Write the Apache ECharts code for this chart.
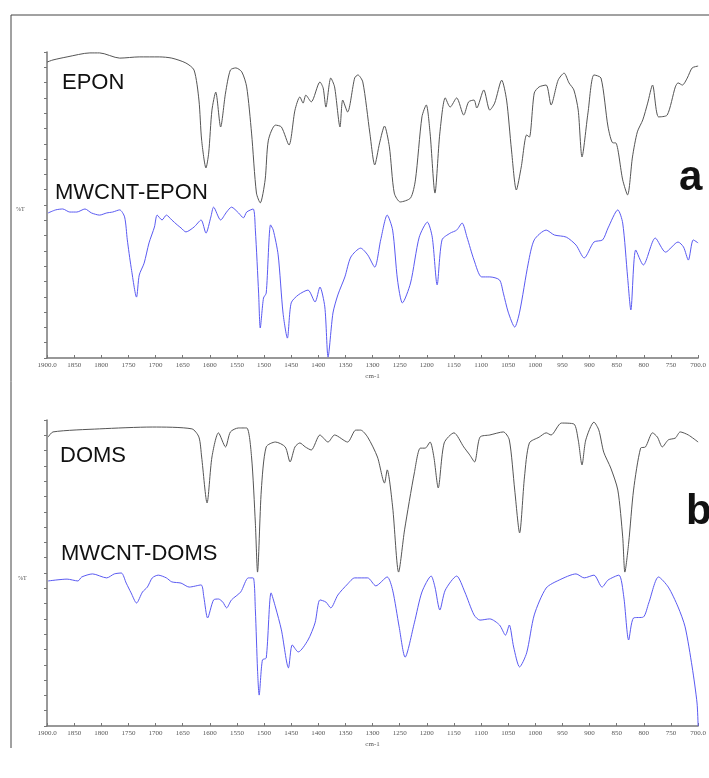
<!DOCTYPE html>
<html>
<head>
<meta charset="utf-8">
<script src="https://cdn.jsdelivr.net/npm/echarts@6/dist/echarts.min.js"></script>
<style>
html,body{margin:0;padding:0;background:#fff;}
#chart{width:709px;height:778px;}
</style>
</head>
<body>
<div id="chart"></div>
<script>
// ---- data (wavenumber cm-1, %T in arbitrary panel units 0-100) ----
const xTicks = [1900,1850,1800,1750,1700,1650,1600,1550,1500,1450,1400,1350,1300,1250,1200,1150,1100,1050,1000,950,900,850,800,750,700];

const eponWn = [1900,1889,1863,1821,1803,1766,1730,1693,1670,1644,1629,1620,1615,1607,1602,1596,1589,1580,1571,1562,1552,1541,1532,1523,1514,1507,1498,1492,1479,1468,1454,1443,1434,1428,1423,1413,1397,1391,1386,1377,1370,1360,1355,1346,1333,1327,1318,1305,1296,1287,1278,1269,1260,1249,1230,1221,1209,1201,1194,1185,1176,1166,1157,1145,1132,1123,1113,1108,1095,1084,1075,1062,1053,1044,1035,1026,1016,1011,1002,993,980,971,958,947,938,929,921,914,903,892,879,866,857,852,839,830,821,812,802,793,784,773,757,742,737,729,720,711,700];
const eponT  = [96.7,97.4,98.4,99.7,99.7,98.0,98.4,98.4,98.0,96.4,94.1,84.3,71.2,62.1,67.0,81.0,86.9,75.5,86.6,94.1,94.8,93.5,88.6,73.5,53.9,50.7,58.2,71.2,76.1,75.5,69.6,81.0,85.3,83.3,85.9,83.7,90.2,88.2,82.0,91.5,88.6,75.5,84.3,80.4,91.5,92.5,90.2,73.5,63.1,70.3,75.8,69.0,53.9,51.0,52.3,58.2,78.8,82.7,73.5,53.9,73.5,85.0,82.0,85.0,79.4,83.7,84.3,81.7,87.6,81.0,83.3,90.8,84.3,68.0,54.9,62.4,72.9,72.2,86.6,88.6,89.2,82.7,90.8,93.1,89.9,87.6,81.0,65.7,80.1,92.5,91.5,75.5,70.3,70.3,58.2,53.3,65.7,73.9,77.8,83.3,89.2,78.8,79.4,88.6,89.9,89.2,91.5,94.8,95.4];

const mwEponWn = [1898,1884,1871,1858,1845,1830,1818,1803,1790,1779,1766,1757,1752,1745,1735,1730,1721,1712,1702,1697,1688,1680,1670,1660,1653,1644,1629,1616,1607,1598,1593,1580,1569,1560,1547,1538,1532,1520,1516,1510,1507,1501,1496,1488,1483,1474,1465,1457,1450,1437,1419,1406,1397,1388,1382,1373,1364,1351,1340,1322,1309,1296,1285,1273,1263,1254,1245,1230,1214,1199,1190,1181,1172,1157,1145,1135,1126,1113,1099,1084,1066,1059,1050,1038,1029,1013,1002,980,965,943,925,910,892,876,866,848,839,830,824,815,801,779,760,737,727,718,709,700];
const mwEponT  = [47.4,48.4,48.7,47.7,47.7,48.7,47.4,46.7,47.4,47.7,48.4,46.1,38.6,29.7,19.9,27.1,31.0,37.6,42.8,46.7,45.1,46.7,45.1,43.5,42.5,41.2,42.8,45.1,40.8,46.1,49.3,45.1,47.7,49.3,47.4,45.8,47.7,48.7,41.8,21.2,9.8,19.6,21.2,43.5,41.8,33.7,14.7,6.5,18.0,20.6,22.2,18.3,23.2,16.7,0.3,14.7,20.6,26.5,33.0,35.9,33.7,29.7,38.6,46.7,41.8,25.5,18.0,24.5,39.5,44.4,39.5,23.9,38.6,40.8,41.8,44.1,39.5,32.0,26.5,26.5,25.5,21.2,15.0,10.1,15.0,31.0,38.6,41.8,40.2,39.5,36.9,32.7,37.9,38.6,42.5,48.4,44.1,26.5,15.7,35.3,30.4,39.2,34.6,37.9,36.3,32.0,38.6,37.6];

const domsWn = [1898,1889,1803,1706,1633,1620,1615,1605,1596,1584,1571,1562,1547,1532,1523,1516,1512,1505,1496,1479,1461,1452,1443,1434,1424,1413,1397,1382,1370,1346,1331,1322,1309,1291,1278,1273,1263,1252,1241,1223,1212,1203,1194,1187,1179,1168,1150,1132,1121,1112,1102,1084,1059,1048,1038,1029,1020,1011,993,980,971,952,929,921,914,907,892,883,874,861,848,839,835,828,819,806,797,784,775,766,755,742,733,718,700];
const domsT  = [94.4,96.1,97.1,97.7,97.1,94.4,87.9,72.9,87.9,95.8,91.2,96.1,97.4,97.4,87.9,66.3,50.3,77.1,91.2,92.8,91.2,86.3,91.2,92.5,91.2,90.2,95.1,92.8,95.1,92.8,96.7,96.7,94.4,87.9,79.4,83.7,71.6,50.3,64.1,82.7,90.8,90.8,92.8,87.9,77.8,92.5,95.8,91.2,88.6,86.3,94.4,95.1,96.1,93.5,77.1,63.1,81.4,92.5,94.4,95.8,95.1,99.0,98.7,93.5,85.3,93.5,99.3,96.7,89.5,84.3,77.1,61.8,50.3,59.8,77.1,90.8,91.2,95.8,94.4,91.2,93.5,94.1,96.1,95.1,92.8];

const mwDomsWn = [1898,1863,1843,1836,1816,1790,1776,1763,1754,1745,1735,1724,1715,1706,1695,1680,1670,1653,1638,1616,1611,1604,1593,1584,1576,1569,1560,1543,1529,1520,1516,1512,1509,1503,1496,1487,1479,1468,1455,1448,1437,1419,1406,1397,1386,1377,1364,1346,1333,1309,1294,1273,1263,1251,1240,1223,1209,1192,1185,1176,1166,1145,1130,1113,1102,1084,1066,1055,1048,1040,1029,1016,1002,980,956,925,910,892,877,866,846,837,828,819,801,791,773,755,737,724,711,702,700];
const mwDomsT  = [47.4,48.0,47.4,48.7,49.7,48.4,49.7,50.0,46.7,43.5,40.2,43.8,45.4,48.4,49.3,48.4,47.1,46.7,45.4,46.1,42.2,35.3,41.2,41.5,40.5,38.6,41.2,43.8,48.4,48.4,37.9,18.3,10.1,21.6,22.2,43.5,38.9,31.4,19.0,26.5,24.2,28.1,33.7,41.2,40.5,38.6,42.8,46.4,48.4,48.4,45.8,48.7,44.4,32.4,22.5,33.7,43.8,49.0,45.4,37.9,44.4,49.0,43.8,36.3,34.6,35.0,33.0,29.7,33.0,25.8,19.3,23.9,36.3,45.1,47.7,49.7,48.4,49.3,45.4,47.7,49.3,42.2,28.1,35.3,35.6,40.2,48.7,45.4,38.9,32.4,19.3,7.5,0];

// ---- chart ----
const pair = (w, t) => w.map((v, i) => [v, t[i]]);
const axisColor = '#777';
function xAxisCfg(gi) {
  return {
    type: 'value', gridIndex: gi, min: 700, max: 1900, interval: 50, inverse: true,
    name: 'cm-1', nameLocation: 'middle', nameGap: 15,
    nameTextStyle: {fontFamily: 'Liberation Serif', fontSize: 7, color: '#555'},
    axisLine: {show: true, lineStyle: {color: axisColor, width: 1.5}},
    axisTick: {show: true, inside: true, length: 3, lineStyle: {color: axisColor}},
    axisLabel: {show: true, margin: 4, fontFamily: 'Liberation Serif', fontSize: 7, color: '#555',
      formatter: v => (v === 1900 || v === 700) ? v.toFixed(1) : String(v)},
    splitLine: {show: false}
  };
}
function yAxisCfg(gi) {
  return {
    type: 'value', gridIndex: gi, min: 0, max: 100, interval: 5,
    axisLine: {show: true, lineStyle: {color: axisColor, width: 1.5}},
    axisTick: {show: true, inside: false, length: 3, lineStyle: {color: axisColor}},
    axisLabel: {show: false}, splitLine: {show: false}
  };
}
function lineSeries(gi, data, color) {
  return {type: 'line', xAxisIndex: gi, yAxisIndex: gi, data, showSymbol: false, smooth: 0.25,
    lineStyle: {color, width: 1}, silent: true, clip: false};
}
const chart = echarts.init(document.getElementById('chart'), null, {renderer: 'canvas'});
const txt = (x, y, s, size, bold) => ({type: 'text', left: x, top: y - size / 2,
  style: {text: s, fontFamily: 'Liberation Sans', fontSize: size, fontWeight: bold ? 'bold' : 'normal', fill: '#111'}});
chart.setOption({
  animation: false,
  backgroundColor: '#fff',
  grid: [
    {left: 47, top: 52, width: 656, height: 306},
    {left: 47, top: 420, width: 656, height: 306}
  ],
  xAxis: [xAxisCfg(0), xAxisCfg(1)],
  yAxis: [yAxisCfg(0), yAxisCfg(1)],
  series: [
    lineSeries(0, pair(eponWn, eponT), '#555'),
    lineSeries(0, pair(mwEponWn, mwEponT), '#5a5af2'),
    lineSeries(1, pair(domsWn, domsT), '#555'),
    lineSeries(1, pair(mwDomsWn, mwDomsT), '#5a5af2')
  ],
  graphic: [
    {type: 'line', shape: {x1: 11, y1: 15, x2: 709, y2: 15}, style: {stroke: '#444', lineWidth: 1}},
    {type: 'line', shape: {x1: 11, y1: 15, x2: 11, y2: 748}, style: {stroke: '#444', lineWidth: 1}},
    txt(62, 83, 'EPON', 22),
    txt(55, 193, 'MWCNT-EPON', 22),
    txt(60, 456, 'DOMS', 22),
    txt(61, 554, 'MWCNT-DOMS', 22),
    txt(679, 178, 'a', 42, true),
    txt(686, 512, 'b', 42, true),
    {type: 'text', left: 16, top: 206, style: {text: '%T', fontFamily: 'Liberation Serif', fontSize: 6, fill: '#555'}},
    {type: 'text', left: 18, top: 575, style: {text: '%T', fontFamily: 'Liberation Serif', fontSize: 6, fill: '#555'}}
  ]
});
</script>
</body>
</html>
